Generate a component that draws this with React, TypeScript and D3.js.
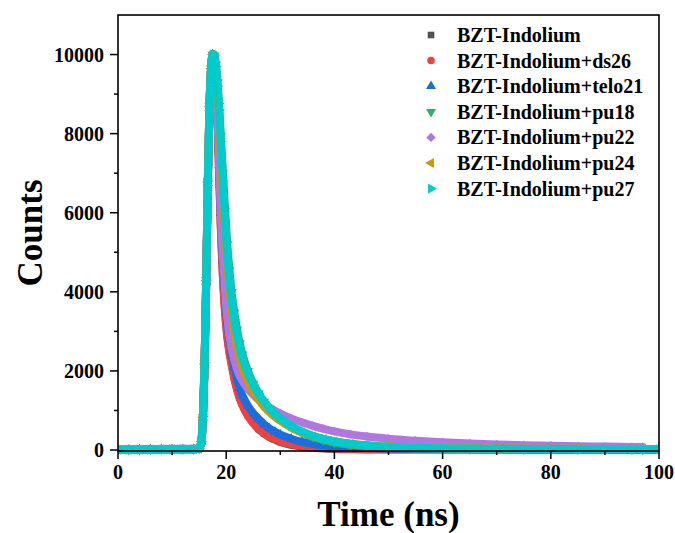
import React from "react";
import * as d3 from "d3";

// time channels (ns) shared by every series
const timeNs = [0, 2, 4, 6, 8, 10, 12, 14, 15, 15.4, 15.7, 16.0, 16.3, 16.6, 16.9, 17.2, 17.5, 17.8,
  18.1, 18.4, 18.7, 19.0, 19.4, 19.8, 20.2, 20.6, 21, 21.5, 22, 22.5, 23, 24, 25, 26, 27, 28, 29, 30,
  32, 34, 36, 38, 40, 43, 46, 50, 55, 60, 65, 70, 75, 80, 85, 90, 95, 97, 100];

const indolium = [5, 6, 8, 14, 15, 16, 17, 20, 30, 190, 780, 2080, 4150, 6650, 8550, 9580, 9980, 9950,
  9500, 8400, 7000, 5700, 4400, 3500, 2900, 2500, 2200, 1850, 1560, 1330, 1150, 880, 690, 530, 420, 330, 260, 205,
  130, 85, 55, 38, 28, 20, 16, 14, 12, 11, 10, 10, 10, 9, 9, 9, 8, 8, 8];
const ds26 = [6, 6, 8, 15, 16, 17, 18, 21, 32, 200, 800, 2100, 4200, 6700, 8600, 9600, 10000, 9940,
  9450, 8300, 6900, 5600, 4350, 3450, 2850, 2450, 2150, 1800, 1520, 1300, 1130, 870, 680, 540, 430, 345, 280, 225,
  150, 100, 70, 52, 40, 30, 25, 21, 18, 16, 15, 14, 13, 13, 12, 12, 12, 11, 11];
const telo21 = [7, 7, 9, 16, 17, 18, 19, 22, 34, 210, 820, 2150, 4250, 6750, 8650, 9620, 10000, 9960,
  9500, 8500, 7200, 6000, 4800, 3900, 3250, 2800, 2450, 2100, 1800, 1570, 1380, 1120, 930, 780, 650, 545, 460, 390,
  285, 205, 150, 114, 88, 63, 49, 39, 31, 26, 23, 21, 20, 19, 18, 18, 17, 17, 17];
const pu18 = [8, 8, 10, 17, 18, 19, 20, 23, 36, 220, 840, 2200, 4300, 6800, 8700, 9650, 10000, 9980,
  9750, 9300, 8700, 7950, 7000, 6050, 5200, 4550, 4000, 3480, 3050, 2700, 2420, 2000, 1680, 1430, 1220, 1050, 900, 780,
  580, 440, 330, 250, 190, 130, 95, 65, 45, 35, 30, 26, 23, 21, 19, 18, 17, 17, 16];
const pu22 = [8, 9, 12, 26, 28, 30, 31, 33, 42, 230, 860, 2250, 4350, 6850, 8700, 9650, 10000, 9900,
  9400, 8400, 7200, 6000, 4900, 4000, 3350, 2900, 2580, 2280, 2050, 1880, 1750, 1550, 1400, 1270, 1160, 1070, 990, 920,
  800, 700, 610, 535, 470, 395, 340, 285, 235, 195, 165, 140, 122, 108, 96, 86, 78, 75, null];
const pu24 = [7, 7, 9, 16, 17, 18, 19, 22, 34, 215, 830, 2180, 4280, 6780, 8680, 9640, 10000, 9970,
  9650, 9050, 8350, 7500, 6450, 5500, 4700, 4050, 3550, 3050, 2650, 2350, 2100, 1750, 1480, 1270, 1100, 960, 840, 740,
  570, 445, 350, 275, 220, 160, 120, 88, 65, 52, 44, 38, 34, 31, 29, 27, 26, 26, 25];
const pu27 = [6, 6, 8, 14, 15, 16, 17, 20, 32, 220, 850, 2200, 4300, 6800, 8700, 9650, 10000, 9980,
  9700, 9200, 8600, 7800, 6800, 5800, 4950, 4300, 3800, 3300, 2900, 2580, 2320, 1950, 1650, 1420, 1220, 1060, 920, 800,
  610, 470, 360, 280, 220, 155, 115, 80, 58, 45, 38, 32, 28, 25, 22, 20, 18, 18, 17];

const seriesNames = ["BZT-Indolium", "BZT-Indolium+ds26", "BZT-Indolium+telo21", "BZT-Indolium+pu18",
  "BZT-Indolium+pu22", "BZT-Indolium+pu24", "BZT-Indolium+pu27"];
const seriesValues = [indolium, ds26, telo21, pu18, pu22, pu24, pu27];
const seriesColors = ["#515151", "#F14040", "#1A6FDF", "#37AD6B", "#B177DE", "#CC9900", "#00CBCC"];

const xTicks = [0, 20, 40, 60, 80, 100];
const yTicks = [0, 2000, 4000, 6000, 8000, 10000];

const W = 675;
const H = 533;
const margin = { top: 15, right: 16, bottom: 82, left: 118 };
const font = "'Liberation Serif', 'Times New Roman', serif";

// shape + rotation for each series marker
const markerDefs: [d3.SymbolType, number][] = [
  [d3.symbolSquare, 0],
  [d3.symbolCircle, 0],
  [d3.symbolTriangle, 0],
  [d3.symbolTriangle, 180],
  [d3.symbolSquare, 45],
  [d3.symbolTriangle, -90],
  [d3.symbolTriangle, 90],
];

export default function App() {
  const x = d3.scaleLinear().domain([0, 100]).range([margin.left, W - margin.right]);
  const y = d3.scaleLinear().domain([-25, 11000]).range([H - margin.bottom, margin.top]);
  const y0 = H - margin.bottom;

  const line = d3
    .line<number | null>()
    .defined((d) => d !== null)
    .x((_, i) => x(timeNs[i]))
    .y((d) => y(d as number))
    .curve(d3.curveMonotoneX);

  const symbolPath = (i: number) => d3.symbol().type(markerDefs[i][0]).size(44)() as string;

  const xMinor = d3.range(10, 100, 20);
  const yMinor = d3.range(1000, 11000, 2000);

  return (
    <svg width={W} height={H} style={{ position: "absolute", left: 0, top: 0 }} fontFamily={font}>
      <rect width={W} height={H} fill="#fff" />
      <defs>
        <clipPath id="plot">
          <rect x={margin.left} y={margin.top} width={W - margin.left - margin.right} height={y0 - margin.top + 6} />
        </clipPath>
      </defs>

      <g clipPath="url(#plot)">
        {seriesValues.map((vals, s) => (
          <g key={s}>
            <path d={line(vals) as string} fill="none" stroke={seriesColors[s]} strokeWidth={8}
              strokeLinejoin="round" strokeLinecap="round" />
            {vals.map((v, i) =>
              v === null ? null : (
                <path key={i} d={symbolPath(s)} fill={seriesColors[s]}
                  transform={`translate(${x(timeNs[i])},${y(v)}) rotate(${markerDefs[s][1]})`} />
              )
            )}
          </g>
        ))}
      </g>

      {/* frame */}
      <rect x={margin.left} y={margin.top} width={W - margin.left - margin.right} height={y0 - margin.top}
        fill="none" stroke="#000" strokeWidth={1.6} />

      {/* x axis */}
      {xTicks.map((t) => (
        <g key={t}>
          <line x1={x(t)} x2={x(t)} y1={y0} y2={y0 + 8} stroke="#000" strokeWidth={1.5} />
          <text x={x(t)} y={y0 + 28} textAnchor="middle" fontSize={20} fontWeight="bold">{t}</text>
        </g>
      ))}
      {xMinor.map((t) => (
        <line key={t} x1={x(t)} x2={x(t)} y1={y0} y2={y0 + 4} stroke="#000" strokeWidth={1.5} />
      ))}

      {/* y axis */}
      {yTicks.map((t) => (
        <g key={t}>
          <line x1={margin.left - 8} x2={margin.left} y1={y(t)} y2={y(t)} stroke="#000" strokeWidth={1.5} />
          <text x={margin.left - 14} y={y(t)} dy="0.35em" textAnchor="end" fontSize={20} fontWeight="bold">{t}</text>
        </g>
      ))}
      {yMinor.map((t) => (
        <line key={t} x1={margin.left - 4} x2={margin.left} y1={y(t)} y2={y(t)} stroke="#000" strokeWidth={1.5} />
      ))}

      <text x={(margin.left + W - margin.right) / 2} y={526} textAnchor="middle" fontSize={35} fontWeight="bold">
        Time (ns)
      </text>
      <text transform={`translate(42,${(margin.top + y0) / 2}) rotate(-90)`} textAnchor="middle" fontSize={35}
        fontWeight="bold">
        Counts
      </text>

      {/* legend */}
      {seriesNames.map((name, i) => (
        <g key={name} transform={`translate(431,${35 + i * 25.6})`}>
          <path d={symbolPath(i)} fill={seriesColors[i]} transform={`rotate(${markerDefs[i][1]})`} />
          <text x={26} dy="0.35em" fontSize={20} fontWeight="bold">{name}</text>
        </g>
      ))}
    </svg>
  );
}
